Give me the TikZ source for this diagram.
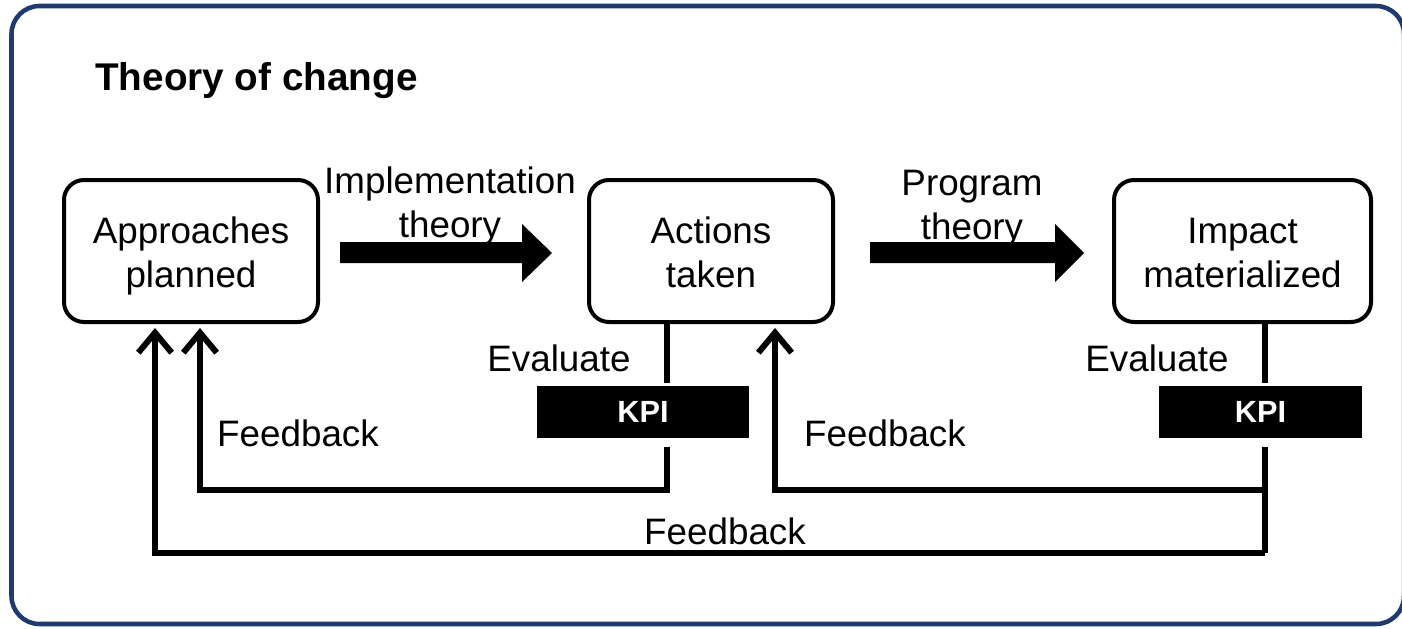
\documentclass[tikz,border=0pt]{standalone}
\usepackage{fontspec}
\setmainfont{Liberation Sans}
\usetikzlibrary{arrows.meta}
\definecolor{framec}{HTML}{1F3A6E}
\newcommand{\topstrut}{\rule{0pt}{27pt}}
\newcommand{\botstrut}{\rule[-5.7pt]{0pt}{0pt}}
\begin{document}
\begin{tikzpicture}[x=0.75pt, y=-0.75pt, line join=miter,
  box/.style={draw, line width=3pt, rounded corners=15pt, minimum height=106.5pt, inner sep=0pt, align=center, font=\fontsize{27.6pt}{33pt}\selectfont},
  kpi/.style={fill=black, draw=none, minimum height=39pt, inner sep=0pt, text=white, font=\fontsize{23pt}{27pt}\selectfont\bfseries},
  lbl/.style={inner sep=0pt, font=\fontsize{27.6pt}{33pt}\selectfont},
  fb/.style={line width=4.5pt},
  fbarrow/.style={fb, -{Straight Barb[length=15pt,width=25pt]}, shorten >=3pt}]
\useasboundingbox (0,0) rectangle (1402,628);
% frame
\draw[line width=3.4pt, framec, rounded corners=21pt] (11.5,6) rectangle (1404,624);
% title
\node[anchor=base west, inner sep=0pt, font=\fontsize{29pt}{35pt}\selectfont\bfseries] (title) at (95,90) {Theory of change};
% boxes
\node[box, minimum width=190.5pt] (ap) at (191,251) {\topstrut Approaches\\planned\botstrut};
\node[box, minimum width=183pt] (at) at (711,251) {\topstrut Actions\\taken\botstrut};
\node[box, minimum width=192.75pt] (im) at (1242.5,251) {\topstrut Impact\\materialized\botstrut};
% arrow labels
\node[lbl, anchor=north, align=center] (it) at (450,157) {\topstrut Implementation\\theory};
\node[lbl, anchor=north, align=center] (pt) at (972,159) {\topstrut Program\\theory};
% block arrows
\fill (340,242) -- (522,242) -- (522,224) -- (552,253) -- (522,282) -- (522,263) -- (340,263) -- cycle;
\fill (870,242) -- (1055,242) -- (1055,224) -- (1084,253) -- (1055,282) -- (1055,263) -- (870,263) -- cycle;
% KPI
\node[kpi, minimum width=159pt] (k1) at (643,412) {KPI};
\node[kpi, minimum width=152.25pt] (k2) at (1260.5,412) {KPI};
\node[lbl, anchor=base] (e1) at (559,371) {Evaluate};
\node[lbl, anchor=base] (e2) at (1157,371) {Evaluate};
% coordinates
\coordinate (v1a) at (667,383);
\coordinate (v1b) at (667,447);
\coordinate (h1) at (200,490);
\coordinate (v2a) at (1265,383);
\coordinate (v2b) at (1265,447);
\coordinate (j2) at (1265,490);
\coordinate (h2) at (775,490);
\coordinate (b2) at (1265,553);
\coordinate (h3) at (155,553);
% feedback lines
\draw[fb] (at.south -| v1a) -- (v1a);
\draw[fbarrow] (v1b) |- (h1) -- (ap.south -| h1);
\draw[fb] (im.south -| v2a) -- (v2a);
\draw[fb] (v2b) -- (b2);
\draw[fbarrow] (j2) -- (h2) -- (at.south -| h2);
\draw[fbarrow] (b2) -- (h3) -- (ap.south -| h3);
% feedback labels
\node[lbl, anchor=base] (f1) at (298,446) {Feedback};
\node[lbl, anchor=base] (f2) at (885,446) {Feedback};
\node[lbl, anchor=base] (f3) at (725,544) {Feedback};
\end{tikzpicture}
\end{document}
